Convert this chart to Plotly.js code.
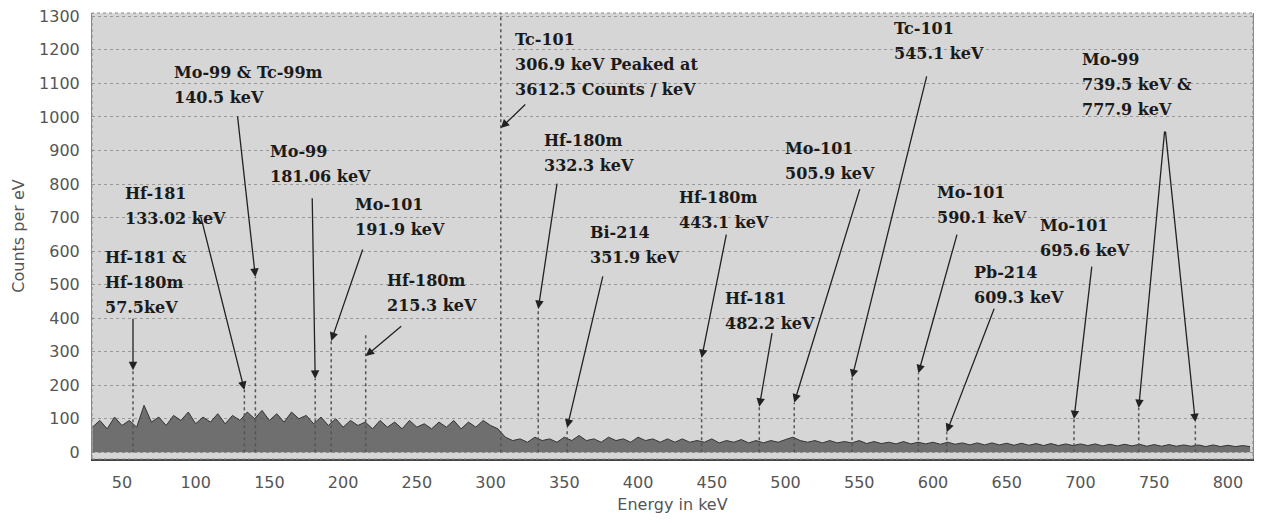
<!DOCTYPE html>
<html>
<head>
<meta charset="utf-8">
<script src="https://cdn.plot.ly/plotly-3.0.1.min.js"></script>
<style>html,body{margin:0;padding:0;background:#fff;}#chart{width:1263px;height:523px;}</style>
</head>
<body>
<div id="chart"></div>
<script>
// ---- data: background spectrum (keV, counts per eV) ----
const energies = [
  30,35,40,45,50,55,60,65,70,75,
  80,85,90,95,100,105,110,115,120,125,
  130,135,140,145,150,155,160,165,170,175,
  180,185,190,195,200,205,210,215,220,225,
  230,235,240,245,250,255,260,265,270,275,
  280,285,290,295,300,305,310,315,320,325,
  330,335,340,345,350,355,360,365,370,375,
  380,385,390,395,400,405,410,415,420,425,
  430,435,440,445,450,455,460,465,470,475,
  480,485,490,495,500,505,510,515,520,525,
  530,535,540,545,550,555,560,565,570,575,
  580,585,590,595,600,605,610,615,620,625,
  630,635,640,645,650,655,660,665,670,675,
  680,685,690,695,700,705,710,715,720,725,
  730,735,740,745,750,755,760,765,770,775,
  780,785,790,795,800,805,810,815
];
const counts = [
  75,95,70,105,80,95,75,140,90,105,
  80,110,95,120,85,105,90,115,85,110,
  95,120,100,125,95,115,90,120,100,110,
  85,105,80,100,75,95,80,90,70,95,
  75,90,70,95,75,85,70,90,75,95,
  70,90,75,95,80,70,45,35,40,30,
  45,35,40,30,45,35,50,35,40,30,
  45,35,40,30,45,35,40,30,40,30,
  40,30,35,30,40,28,35,30,38,28,
  35,28,35,30,38,45,35,30,35,28,
  35,28,32,28,35,26,32,26,30,25,
  32,25,30,25,30,24,30,24,28,22,
  28,22,28,22,27,21,27,21,26,20,
  26,20,25,20,25,20,25,19,24,19,
  24,19,24,18,23,18,23,18,22,18,
  22,17,22,17,21,17,20,17
];

// ---- data: identified peaks ----
const peakEnergy = [57.5, 133.02, 140.5, 181.06, 191.9, 215.3, 306.9, 332.3, 351.9,
                    443.1, 482.2, 505.9, 545.1, 590.1, 609.3, 695.6, 739.5, 777.9];
const peakCounts = [245, 186, 523, 219, 332, 350, 3612.5, 427, 73,
                    281, 136, 148, 222, 236, 60, 99, 132, 90];
const arrowCounts = [245, 186, 523, 219, 332, 287, 967, 427, 73,
                     281, 136, 148, 222, 236, 60, 99, 132, 90];

// ---- label texts (one entry per label, lines separated) ----
const labelTexts = [
  ["Hf-181 &", "Hf-180m", "57.5keV"],
  ["Hf-181", "133.02 keV"],
  ["Mo-99 & Tc-99m", "140.5 keV"],
  ["Mo-99", "181.06 keV"],
  ["Mo-101", "191.9 keV"],
  ["Hf-180m", "215.3 keV"],
  ["Tc-101", "306.9 keV Peaked at", "3612.5 Counts / keV"],
  ["Hf-180m", "332.3 keV"],
  ["Bi-214", "351.9 keV"],
  ["Hf-180m", "443.1 keV"],
  ["Hf-181", "482.2 keV"],
  ["Mo-101", "505.9 keV"],
  ["Tc-101", "545.1 keV"],
  ["Mo-101", "590.1 keV"],
  ["Pb-214", "609.3 keV"],
  ["Mo-101", "695.6 keV"],
  ["Mo-99", "739.5 keV &", "777.9 keV"]
];
const xTickVals = [50,100,150,200,250,300,350,400,450,500,550,600,650,700,750,800];
const yTickVals = [0,100,200,300,400,500,600,700,800,900,1000,1100,1200,1300];

// ---- layout positions (not data) ----
const labelPos = [ // [left keV, first-line centre counts]
  [37.1,582],[50.7,773],[83.9,1133],[149,898],[206.6,740],[228.3,511],
  [315.1,1232],[334.8,931],[366,654],[426.4,761],[457.5,460],[498.2,907],
  [572.1,1265],[601.3,776],[626.4,537],[671.1,675],[699.6,1170]
];
const lineGap = 25; // px between label lines
const arrowOffsets = [ // pixel offsets of arrow tails from tips
  [0,-53],[-44,-175],[-18,-162],[-3,-182],[32,-93],[37,-31],[26,-25],[19,-127],[36,-153],
  [25,-125],[13,-75],[66,-215],[75,-303],[39,-140],[48,-125],[18,-154],[26,-278],[-30,-292]
];

// build peak line trace
const pkX = [], pkY = [];
peakEnergy.forEach((e, i) => { pkX.push(e, e, null); pkY.push(0, peakCounts[i], null); });

const traces = [
  {x: energies, y: counts, type: 'scatter', mode: 'lines', fill: 'tozeroy',
   fillcolor: 'rgba(85,85,85,0.8)', line: {color: '#333', width: 1}, hoverinfo: 'x+y'},
  {x: pkX, y: pkY, type: 'scatter', mode: 'lines',
   line: {color: '#555', width: 1.5, dash: 'dot'}, hoverinfo: 'skip'}
];

const annotations = [];
labelTexts.forEach((lines, i) => {
  lines.forEach((t, k) => {
    annotations.push({x: labelPos[i][0], y: labelPos[i][1], xref: 'x', yref: 'y', text: t,
      yshift: -k * lineGap, showarrow: false, xanchor: 'left', yanchor: 'middle', align: 'left',
      font: {family: 'DejaVu Serif, serif', size: 16, color: '#1a1a1a', weight: 'bold'}});
  });
});
peakEnergy.forEach((e, i) => {
  annotations.push({x: e, y: arrowCounts[i], xref: 'x', yref: 'y', text: '',
    showarrow: true, ax: arrowOffsets[i][0], ay: arrowOffsets[i][1],
    arrowhead: 2, arrowsize: 1.3, arrowwidth: 1.3, arrowcolor: '#222', standoff: 0});
});

const layout = {
  width: 1263, height: 523,
  margin: {l: 92, r: 10, t: 13, b: 64},
  paper_bgcolor: '#ffffff', plot_bgcolor: '#d6d6d6',
  showlegend: false,
  font: {family: 'DejaVu Sans, sans-serif', color: '#555'},
  xaxis: {range: [29.7, 817], tickvals: xTickVals, ticks: 'outside', ticklen: 8, tickcolor: 'rgba(0,0,0,0)',
    tickfont: {size: 16, color: '#555'}, showgrid: false, zeroline: false,
    showline: true, linecolor: '#444', linewidth: 2, mirror: false,
    title: {text: 'Energy in keV', font: {size: 16, color: '#555'}, standoff: 8}},
  yaxis: {range: [-20, 1310], tickvals: yTickVals, ticks: 'outside', ticklen: 8, tickcolor: 'rgba(0,0,0,0)',
    tickfont: {size: 16, color: '#555'}, showgrid: true, gridcolor: '#999', griddash: 'dot', gridwidth: 1,
    zeroline: false, showline: true, linecolor: '#888', linewidth: 1, mirror: true,
    title: {text: 'Counts per eV', font: {size: 16, color: '#555'}, standoff: 10}},
  annotations: annotations,
  shapes: [{type: 'rect', xref: 'paper', yref: 'paper', x0: 0, x1: 1, y0: 0, y1: 1,
    line: {color: '#888', width: 1, dash: 'dot'}}]
};

Plotly.newPlot('chart', traces, layout, {displayModeBar: false, staticPlot: true});
</script>
</body>
</html>
